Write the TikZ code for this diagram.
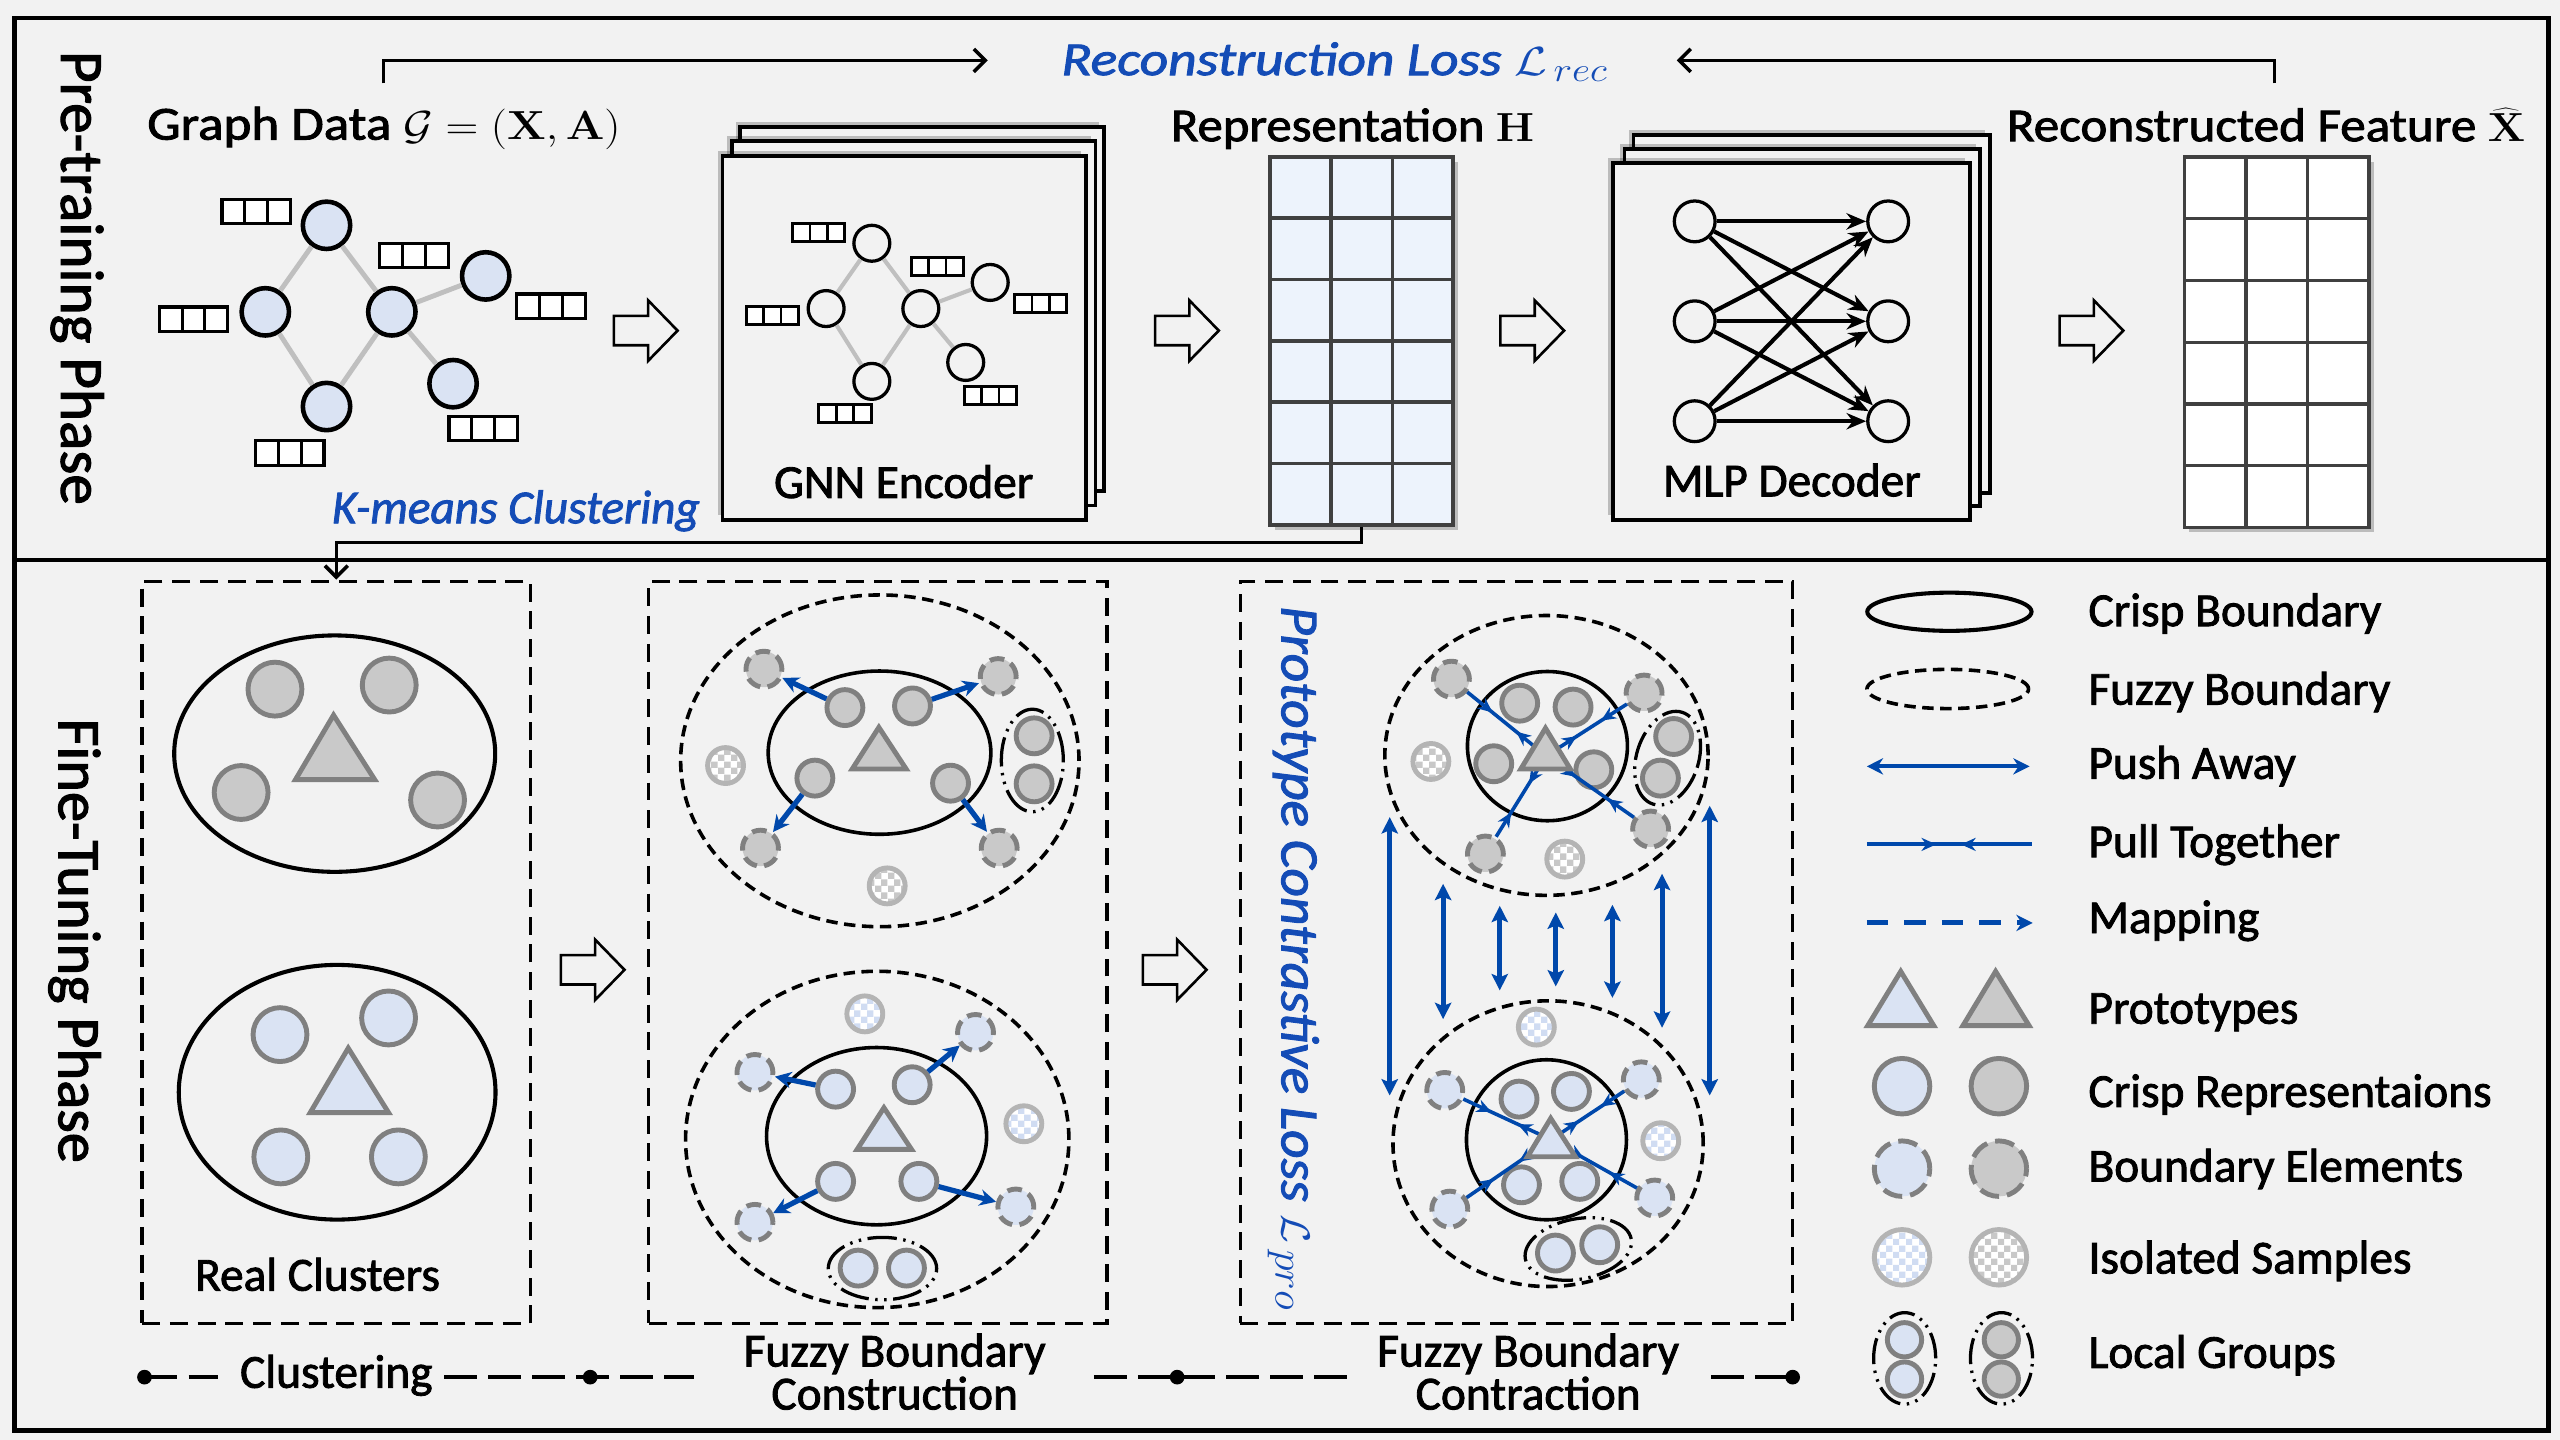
\documentclass[tikz,border=0pt]{standalone}
\usepackage[no-math]{fontspec}
\setmainfont{Carlito}[FakeBold=1.8]
\usetikzlibrary{arrows.meta,shadows,patterns,decorations.markings,calc}
\definecolor{bgc}{HTML}{F2F2F2}
\definecolor{lblue}{HTML}{DAE3F3}
\definecolor{gfill}{HTML}{C9C9C9}
\definecolor{gline}{HTML}{808080}
\definecolor{edgec}{HTML}{BFBFBF}
\definecolor{arrb}{RGB}{0,72,171}
\definecolor{txtb}{RGB}{20,76,182}
\definecolor{isoline}{HTML}{B4B4B4}
\definecolor{chkG}{HTML}{C8C8C8}
\definecolor{chkB}{HTML}{D0DCF2}
\definecolor{gridb}{HTML}{EDF3FC}
\definecolor{gridl}{HTML}{404040}
\pgfdeclarepatternformonly{smallchecker}{\pgfpointorigin}{\pgfqpoint{8pt}{8pt}}{\pgfqpoint{8pt}{8pt}}{%
  \pgfpathrectangle{\pgfpointorigin}{\pgfqpoint{4.05pt}{4.05pt}}%
  \pgfpathrectangle{\pgfqpoint{4pt}{4pt}}{\pgfqpoint{4.05pt}{4.05pt}}%
  \pgfusepath{fill}}
\tikzset{
  txt/.style={inner sep=0pt, font=\fontsize{29}{34}\selectfont},
  btxt/.style={inner sep=0pt, text=txtb, font=\fontsize{29}{34}\selectfont\itshape},
  gnode/.style={circle, draw=black, fill=lblue, line width=2.8pt, minimum size=29pt, inner sep=0pt},
  snode/.style={circle, draw=black, fill=bgc, line width=2pt, minimum size=22pt, inner sep=0pt},
  mnode/.style={circle, draw=black, fill=bgc, line width=2pt, minimum size=25pt, inner sep=0pt},
  gedge/.style={draw=edgec, line width=3pt},
  stackr/.style={draw=black, fill=bgc, line width=2.4pt, general shadow={shadow xshift=-3pt, shadow yshift=3pt, fill=black, opacity=0.22}},
  gridr/.style={draw=gridl, line width=2.2pt, inner sep=0pt, general shadow={shadow xshift=3pt, shadow yshift=-3pt, fill=black, opacity=0.22}},
  gridln/.style={draw=gridl, line width=2pt},
  lossar/.style={draw=black, line width=2.2pt, -{Straight Barb[length=7pt,width=14pt,line width=2.2pt]}},
  mlpar/.style={draw=black, line width=2.5pt, -{Stealth[length=12pt,width=10pt]}},
  dbox/.style={draw=black, line width=2pt, dash pattern=on 11pt off 6pt, inner sep=0pt},
  crispE/.style={draw=black, line width=2.2pt},
  fuzzyE/.style={draw=black, line width=2.2pt, dash pattern=on 7pt off 4pt},
  lgrp/.style={draw=black, line width=2pt, dash pattern=on 18pt off 4pt on 1.5pt off 4pt on 1.5pt off 4pt},
  crispG/.style={circle, draw=gline, fill=gfill, line width=3pt, minimum size=#1, inner sep=0pt},
  crispG/.default=22pt,
  crispB/.style={circle, draw=gline, fill=lblue, line width=3pt, minimum size=#1, inner sep=0pt},
  crispB/.default=22pt,
  bndG/.style={crispG=#1, dash pattern=on 9pt off 4.5pt},
  bndG/.default=22pt,
  bndB/.style={crispB=#1, dash pattern=on 9pt off 4.5pt},
  bndB/.default=22pt,
  isoG/.style={circle, draw=isoline, line width=3pt, minimum size=#1, inner sep=0pt, preaction={fill=white}, preaction={pattern=smallchecker, pattern color=chkG}},
  isoG/.default=22pt,
  isoB/.style={circle, draw=isoline, line width=3pt, minimum size=#1, inner sep=0pt, preaction={fill=white}, preaction={pattern=smallchecker, pattern color=chkB}},
  isoB/.default=22pt,
  triG/.style={draw=gline, fill=gfill, line width=3pt, line join=miter},
  triB/.style={draw=gline, fill=lblue, line width=3pt, line join=miter},
  pushar/.style={draw=arrb, line width=3.2pt, -{Stealth[length=10pt,width=10pt]}},
  pullln/.style 2 args={draw, color=arrb, line width=2.2pt, postaction={decorate},
    decoration={markings, mark=at position #1 with {\arrow{Stealth[length=9pt,width=8pt]}},
      mark=at position #2 with {\arrowreversed{Stealth[length=9pt,width=8pt]}}}},
  vdbl/.style={draw=arrb, line width=3pt, {Stealth[length=10pt,width=10pt,inset=2pt]}-{Stealth[length=10pt,width=10pt,inset=2pt]}},
  tline/.style={draw=black, line width=2.2pt, dash pattern=on 20pt off 7pt},
  tdot/.style={circle, fill=black, minimum size=9pt, inner sep=0pt},
  featA/.pic={\draw[fill=white, line width=2pt] (0,0) rectangle (42,15);
              \draw[line width=1.8pt] (14,0) -- (14,15) (28,0) -- (28,15);},
  featB/.pic={\draw[fill=white, line width=1.8pt] (0,0) rectangle (32,11);
              \draw[line width=1.6pt] (10.67,0) -- (10.67,11) (21.33,0) -- (21.33,11);},
  harrow/.pic={\draw[line width=1.6pt, fill=bgc, line join=miter]
     (0,-9) -- (21,-9) -- (21,-18.5) -- (39,0) -- (21,18.5) -- (21,9) -- (0,9) -- cycle;}
}
\begin{document}
\begin{tikzpicture}[x=1pt,y=-1pt]
\fill[bgc] (0,0) rectangle (1568,882);
\useasboundingbox (0,0) rectangle (1568,882);
% frame
\draw[line width=3pt] (9,11) rectangle (1561,876);
\draw[line width=3pt] (9,343) -- (1561,343);

% ================= TOP PANEL =================
\node[txt, anchor=base west, rotate=-90, font=\fontsize{37.5}{40}\selectfont] (pretxt) at (37.5,31) {Pre-training Phase};

% reconstruction loss
\node[btxt, anchor=base west] (rloss) at (650,46) {\scalebox{1.17}[1]{Reconstruction Loss $\mathcal{L}_{\,rec}$}};
\coordinate (rlL) at (235,51);
\coordinate (rlLt) at (605,37);
\coordinate (rlR) at (1393,51);
\coordinate (rlRt) at (1027,37);
\draw[lossar] (rlL) |- (rlLt);
\draw[lossar] (rlR) |- (rlRt);

\node[txt, anchor=base west] (gdata) at (90,85.5) {\scalebox{1.12}[1]{Graph Data $\mathcal{G}=(\mathbf{X},\mathbf{A})$}};

% input graph
\node[gnode] (g1) at (200,138) {};
\node[gnode] (g2) at (162.5,191) {};
\node[gnode] (g3) at (240,191) {};
\node[gnode] (g4) at (297.5,169) {};
\node[gnode] (g5) at (200,249) {};
\node[gnode] (g6) at (277.5,235) {};
\draw[gedge] (g1) -- (g2);
\draw[gedge] (g1) -- (g3);
\draw[gedge] (g2) -- (g5);
\draw[gedge] (g3) -- (g5);
\draw[gedge] (g3) -- (g4);
\draw[gedge] (g3) -- (g6);
\pic at (136,122) {featA};
\pic at (232.5,149) {featA};
\pic at (316.5,180) {featA};
\pic at (97.5,188) {featA};
\pic at (275,255) {featA};
\pic at (156.5,270) {featA};

\pic at (376,202.5) {harrow};

% GNN encoder stack
\draw[stackr] (453.5,77.6) rectangle (676,300.6);
\draw[stackr] (448.5,86.6) rectangle (671,309.6);
\draw[stackr] (442.5,95.6) rectangle (665,318.6);
\node[snode] (m1) at (534,149) {};
\node[snode] (m2) at (506,189) {};
\node[snode] (m3) at (564,189) {};
\node[snode] (m4) at (606.5,173) {};
\node[snode] (m5) at (534,233.6) {};
\node[snode] (m6) at (591.5,222) {};
\draw[gedge, line width=2.5pt] (m1) -- (m2);
\draw[gedge, line width=2.5pt] (m1) -- (m3);
\draw[gedge, line width=2.5pt] (m2) -- (m5);
\draw[gedge, line width=2.5pt] (m3) -- (m5);
\draw[gedge, line width=2.5pt] (m3) -- (m4);
\draw[gedge, line width=2.5pt] (m3) -- (m6);
\pic at (485.5,137) {featB};
\pic at (558,157.5) {featB};
\pic at (621.5,180.5) {featB};
\pic at (457,187.5) {featB};
\pic at (590.5,237) {featB};
\pic at (501.5,248) {featB};
\node[txt, anchor=base] (gnnlbl) at (553.5,305) {GNN Encoder};

\node[btxt, anchor=base] (kmeans) at (316,320.5) {K-means Clustering};

\pic at (707.5,202.5) {harrow};

% representation H
\node[txt, anchor=base west] (replbl) at (717,86.5) {\scalebox{1.07}[1]{Representation $\mathbf{H}$}};
\node[gridr, fill=gridb, minimum width=112pt, minimum height=225.5pt] (repH) at (834,208.75) {};
\foreach \xx in {815.3,852.7} \draw[gridln] (\xx,96) -- (\xx,321.5);
\foreach \yy in {133.6,171.2,208.8,246.3,283.9} \draw[gridln] (778,\yy) -- (890,\yy);

\pic at (919,202.5) {harrow};

% MLP decoder stack
\draw[stackr] (1000.5,82.5) rectangle (1219,302);
\draw[stackr] (995,91.4) rectangle (1213,310);
\draw[stackr] (988,100) rectangle (1206.5,318.6);
\node[mnode] (l1) at (1038,135.6) {};
\node[mnode] (l2) at (1038,196.8) {};
\node[mnode] (l3) at (1038,258) {};
\node[mnode] (r1) at (1156.5,135.6) {};
\node[mnode] (r2) at (1156.5,196.8) {};
\node[mnode] (r3) at (1156.5,258) {};
\foreach \a in {l1,l2,l3}{\foreach \b in {r1,r2,r3}{\draw[mlpar] (\a) -- (\b);}}
\node[txt, anchor=base] (mlplbl) at (1097.5,304) {MLP Decoder};

\pic at (1261.5,202.5) {harrow};

% reconstructed feature
\node[txt, anchor=base west] (reclbl) at (1229,86.5) {\scalebox{1.08}[1]{Reconstructed Feature $\widehat{\mathbf{X}}$}};
\node[gridr, fill=white, minimum width=113pt, minimum height=226.8pt] (recX) at (1394.5,209.6) {};
\foreach \xx in {1375.7,1413.3} \draw[gridln] (\xx,96.2) -- (\xx,323);
\foreach \yy in {134,171.8,209.6,247.4,285.2} \draw[gridln] (1338,\yy) -- (1451,\yy);

% ================= BOTTOM PANEL =================
\node[txt, anchor=base west, rotate=-90, font=\fontsize{37}{40}\selectfont] (fttxt) at (36,440) {Fine-Tuning Phase};

\node[dbox, minimum width=238pt, minimum height=454.5pt] (box1) at (206,583.25) {};
\node[dbox, minimum width=280.6pt, minimum height=454.5pt] (box2) at (537.7,583.25) {};
\node[dbox, minimum width=338.3pt, minimum height=454.5pt] (box3) at (928.85,583.25) {};

% k-means connector
\draw[lossar, line width=2pt] (repH.south) -- ++(0,9.5) -| (box1.north);

% ---- box 1: real clusters
\draw[crispE, line width=2.5pt] (205,461.6) ellipse [x radius=98.3pt, y radius=72.4pt];
\node[crispG=33pt] (a1) at (168.4,422.1) {};
\node[crispG=33pt] (a2) at (238.4,419.6) {};
\node[crispG=33pt] (a3) at (147.7,485.4) {};
\node[crispG=33pt] (a4) at (268,490) {};
\draw[triG] (181,477.5) -- (204.3,438) -- (229.5,477.5) -- cycle;
\draw[crispE, line width=2.5pt] (206.5,669) ellipse [x radius=97pt, y radius=78pt];
\node[crispB=33pt] (b1) at (171.5,633.7) {};
\node[crispB=33pt] (b2) at (238,623.5) {};
\node[crispB=33pt] (b3) at (172,708.6) {};
\node[crispB=33pt] (b4) at (244,708.6) {};
\draw[triB] (190,681.5) -- (213.3,642) -- (238,681.5) -- cycle;
\node[txt, anchor=base] (rclbl) at (194.5,790.5) {Real Clusters};

\pic at (343.5,594) {harrow};

% ---- box 2: fuzzy boundary construction
\draw[fuzzyE] (538.9,466) ellipse [x radius=122pt, y radius=101.6pt];
\draw[crispE] (538.7,461) ellipse [x radius=68.2pt, y radius=50pt];
\node[crispG] (p1) at (517.5,433.4) {};
\node[crispG] (p2) at (558.9,432.4) {};
\node[crispG] (p3) at (499.1,476.6) {};
\node[crispG] (p4) at (582.2,479.7) {};
\draw[triG] (522,471) -- (538.3,445.5) -- (555,471) -- cycle;
\node[bndG] (q1) at (467.9,409.9) {};
\node[bndG] (q2) at (611.4,414.4) {};
\node[bndG] (q3) at (465.8,519.5) {};
\node[bndG] (q4) at (612,519.5) {};
\node[isoG] (s1) at (444.4,468.9) {};
\node[isoG] (s2) at (543.4,542.6) {};
\node[crispG] (u1) at (633.4,450.7) {};
\node[crispG] (u2) at (633.4,480.1) {};
\draw[lgrp] (632.3,465.8) ellipse [x radius=19pt, y radius=31.4pt];
\draw[pushar] (p1) -- (q1);
\draw[pushar] (p2) -- (q2);
\draw[pushar] (p3) -- (q3);
\draw[pushar] (p4) -- (q4);

\draw[fuzzyE] (537.3,697.9) ellipse [x radius=117.4pt, y radius=103pt];
\draw[crispE] (536.9,695.9) ellipse [x radius=67.4pt, y radius=54.3pt];
\node[crispB] (pb1) at (511.8,667.1) {};
\node[crispB] (pb2) at (558.7,664.4) {};
\node[crispB] (pb3) at (511.8,723.6) {};
\node[crispB] (pb4) at (562.8,723.6) {};
\draw[triB] (525,704) -- (541.4,678.5) -- (558.3,704) -- cycle;
\node[bndB] (qb1) at (462.4,656.9) {};
\node[bndB] (qb2) at (597.5,632.4) {};
\node[bndB] (qb3) at (462.4,748.7) {};
\node[bndB] (qb4) at (622.2,739.3) {};
\node[isoB] (sb1) at (529.7,621) {};
\node[isoB] (sb2) at (627.1,688.3) {};
\node[crispB] (ub1) at (525.6,776.7) {};
\node[crispB] (ub2) at (555.2,776.7) {};
\draw[lgrp] (540.5,777) ellipse [x radius=33.2pt, y radius=19.1pt];
\draw[pushar] (pb1) -- (qb1);
\draw[pushar] (pb2) -- (qb2);
\draw[pushar] (pb3) -- (qb3);
\draw[pushar] (pb4) -- (qb4);

\pic at (700,594) {harrow};

% ---- box 3: fuzzy boundary contraction
\node[btxt, anchor=base west, rotate=-90, font=\fontsize{33}{36}\selectfont\itshape] (protolbl) at (785,371) {\scalebox{1.03}[1]{Prototype Contrastive Loss $\mathcal{L}_{\,pro}$}};

\draw[fuzzyE] (947.2,462.7) ellipse [x radius=99pt, y radius=85.7pt];
\draw[crispE] (947.8,457) ellipse [x radius=49pt, y radius=45.7pt];
\node[crispG] (e1) at (930.8,430.7) {};
\node[crispG] (e2) at (963.5,433.1) {};
\node[crispG] (e3) at (914.9,467.8) {};
\node[crispG] (e4) at (976.2,471.5) {};
\node[bndG] (f1) at (889,416) {};
\node[bndG] (f2) at (1007,424.5) {};
\node[bndG] (f3) at (909.8,523.1) {};
\node[bndG] (f4) at (1011,507.8) {};
\node[isoG] (h1) at (876.4,466.4) {};
\node[isoG] (h2) at (958.4,526.2) {};
\node[crispG] (k1) at (1025.1,451.1) {};
\node[crispG] (k2) at (1017,476.6) {};
\draw[lgrp] (1021.4,464.4) ellipse [x radius=19pt, y radius=29.5pt, rotate=-17.6];
\coordinate (pt1) at (947,463);
\draw[pullln={0.32}{0.62}] (f1) -- (pt1);
\draw[pullln={0.32}{0.62}] (f2) -- (pt1);
\draw[pullln={0.30}{0.66}] (f3) -- (pt1);
\draw[pullln={0.30}{0.66}] (f4) -- (pt1);
\draw[triG] (931.5,471) -- (946.6,446) -- (961.8,471) -- cycle;

\draw[fuzzyE] (948.2,700.5) ellipse [x radius=95pt, y radius=87.5pt];
\draw[crispE] (947.2,698.1) ellipse [x radius=49pt, y radius=49pt];
\node[crispB] (eb1) at (930.4,673.2) {};
\node[crispB] (eb2) at (962.5,668.5) {};
\node[crispB] (eb3) at (931.9,725.7) {};
\node[crispB] (eb4) at (967.6,723.6) {};
\node[bndB] (fb1) at (884.9,667.9) {};
\node[bndB] (fb2) at (1005.3,661.4) {};
\node[bndB] (fb3) at (888,740.6) {};
\node[bndB] (fb4) at (1013.5,733.8) {};
\node[isoB] (hb1) at (941,629.1) {};
\node[isoB] (hb2) at (1017.2,698.7) {};
\node[crispB] (kb1) at (952.7,767.5) {};
\node[crispB] (kb2) at (979.8,762.4) {};
\draw[lgrp] (966.7,765) ellipse [x radius=33pt, y radius=18.5pt, rotate=10.7];
\coordinate (pt2) at (950,698);
\draw[pullln={0.32}{0.62}] (fb1) -- (pt2);
\draw[pullln={0.32}{0.62}] (fb2) -- (pt2);
\draw[pullln={0.32}{0.62}] (fb3) -- (pt2);
\draw[pullln={0.32}{0.62}] (fb4) -- (pt2);
\draw[triB] (935.6,708.5) -- (949.8,685) -- (964.9,708.5) -- cycle;

\foreach \i/\xx/\ya/\yb in {1/851.2/500.5/671, 2/883.9/541.3/624.2, 3/918.6/554.8/606.6, 4/952.9/558.9/604.2, 5/987.6/554.2/611.2, 6/1018/535.2/629.5, 7/1047.2/493.5/671}{
  \coordinate (vt\i) at (\xx,\ya);
  \coordinate (vb\i) at (\xx,\yb);
  \draw[vdbl] (vt\i) -- (vb\i);
}

% ---- timeline
\node[tdot] (d1) at (88.5,843.5) {};
\node[tdot] (d2) at (361.5,843.5) {};
\node[tdot] (d3) at (721,843.5) {};
\node[tdot] (d4) at (1098,843.5) {};
\coordinate (ta1) at (133.5,843.5);
\coordinate (ta2) at (272,843.5);
\coordinate (ta3) at (425,843.5);
\coordinate (ta4) at (670,843.5);
\coordinate (ta5) at (825,843.5);
\coordinate (ta6) at (1048,843.5);
\draw[tline] (d1.center) -- (ta1);
\draw[tline] (ta2) -- (d2.center) -- (ta3);
\draw[tline] (ta4) -- (d3.center) -- (ta5);
\draw[tline] (ta6) -- (d4.center);
\node[txt, anchor=base] (tl1) at (206,850) {Clustering};
\node[txt, anchor=base, align=center, font=\fontsize{29}{26.3}\selectfont] (tl2) at (548,863.3) {Fuzzy Boundary\\Construction};
\node[txt, anchor=base, align=center, font=\fontsize{29}{26.3}\selectfont] (tl3) at (936,863.3) {Fuzzy Boundary\\Contraction};

% ================= LEGEND =================
\draw[crispE, line width=2.5pt] (1194,374.7) ellipse [x radius=50.3pt, y radius=11.7pt];
\draw[fuzzyE] (1193,422) ellipse [x radius=49.5pt, y radius=12pt];
\coordinate (pa1) at (1143.4,469.4);
\coordinate (pa2) at (1243.1,469.4);
\draw[pushar, line width=2.5pt, {Stealth[length=10pt,width=10pt]}-{Stealth[length=10pt,width=10pt]}] (pa1) -- (pa2);
\coordinate (pu1) at (1143.4,517.2);
\coordinate (pu2) at (1244.6,517.2);
\draw[pullln={0.42}{0.57}, line width=2.5pt] (pu1) -- (pu2);
\coordinate (mp1) at (1143.4,565.3);
\coordinate (mp2) at (1245,565.3);
\draw[draw=arrb, line width=3pt, dash pattern=on 13pt off 10pt, -{Stealth[length=10pt,width=10pt]}] (mp1) -- (mp2);
\draw[triB] (1144,628.2) -- (1164.2,595) -- (1184.4,628.2) -- cycle;
\draw[triG] (1202.3,628.2) -- (1222.3,595) -- (1242.8,628.2) -- cycle;
\node[crispB=34pt] (lc1) at (1165,665.3) {};
\node[crispG=34pt] (lc2) at (1224.3,665.3) {};
\node[bndB=34pt, dash pattern=on 12pt off 5pt] (lb1) at (1165,715.8) {};
\node[bndG=34pt, dash pattern=on 12pt off 5pt] (lb2) at (1224.3,715.8) {};
\node[isoB=34pt] (li1) at (1165,770.1) {};
\node[isoG=34pt] (li2) at (1224.3,770.1) {};
\node[crispB=21pt] (lg1) at (1166.5,820.6) {};
\node[crispB=21pt] (lg2) at (1166.5,844.7) {};
\draw[lgrp, dash pattern=on 16pt off 4pt on 1.5pt off 4pt on 1.5pt off 4pt] (1166.6,832) ellipse [x radius=19pt, y radius=28pt];
\node[crispG=21pt] (lg3) at (1225.8,820.6) {};
\node[crispG=21pt] (lg4) at (1225.8,844.7) {};
\draw[lgrp, dash pattern=on 16pt off 4pt on 1.5pt off 4pt on 1.5pt off 4pt] (1225.9,832) ellipse [x radius=19pt, y radius=28pt];

\node[txt, anchor=base west] (t1) at (1279,383.5) {Crisp Boundary};
\node[txt, anchor=base west] (t2) at (1279,431.6) {Fuzzy Boundary};
\node[txt, anchor=base west] (t3) at (1279,477) {Push Away};
\node[txt, anchor=base west] (t4) at (1279,525) {Pull Together};
\node[txt, anchor=base west] (t5) at (1279,571.5) {Mapping};
\node[txt, anchor=base west] (t6) at (1279,627) {Prototypes};
\node[txt, anchor=base west] (t7) at (1279,678) {Crisp Representaions};
\node[txt, anchor=base west] (t8) at (1279,723.7) {Boundary Elements};
\node[txt, anchor=base west] (t9) at (1279,780) {Isolated Samples};
\node[txt, anchor=base west] (t10) at (1279,837.8) {Local Groups};
\end{tikzpicture}
\end{document}
